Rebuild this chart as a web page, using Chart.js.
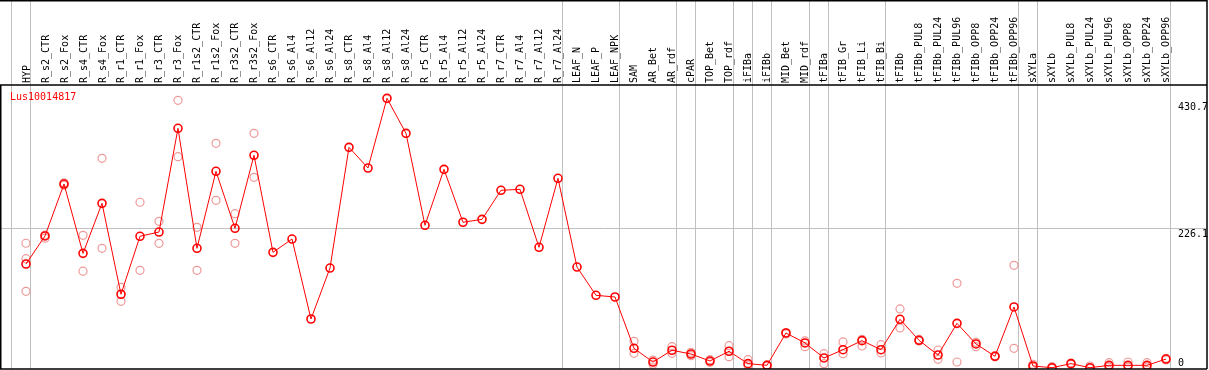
<!DOCTYPE html>
<html>
<head>
<meta charset="utf-8">
<script src="https://cdn.jsdelivr.net/npm/chart.js@4/dist/chart.umd.min.js"></script>
<style>
    body { margin: 0; background: #fff; }
    #wrap { width: 1209px; height: 370px; }
</style>
</head>
<body>
<div id="wrap"><canvas id="myChart" width="1209" height="370"></canvas></div>
<script>
var seriesName = "Lus10014817";
var categories = ["HYP", "R_s2_CTR", "R_s2_Fox", "R_s4_CTR", "R_s4_Fox", "R_r1_CTR", "R_r1_Fox", "R_r3_CTR",
    "R_r3_Fox", "R_r1s2_CTR", "R_r1s2_Fox", "R_r3s2_CTR", "R_r3s2_Fox", "R_s6_CTR", "R_s6_Al4", "R_s6_Al12",
    "R_s6_Al24", "R_s8_CTR", "R_s8_Al4", "R_s8_Al12", "R_s8_Al24", "R_r5_CTR", "R_r5_Al4", "R_r5_Al12",
    "R_r5_Al24", "R_r7_CTR", "R_r7_Al4", "R_r7_Al12", "R_r7_Al24", "LEAF_N", "LEAF_P", "LEAF_NPK", "SAM",
    "AR_Bet", "AR_rdf", "cPAR", "TOP_Bet", "TOP_rdf", "iFIBa", "iFIBb", "MID_Bet", "MID_rdf", "tFIBa",
    "tFIB_Gr", "tFIB_Li", "tFIB_Bi", "tFIBb", "tFIBb_PUL8", "tFIBb_PUL24", "tFIBb_PUL96", "tFIBb_OPP8",
    "tFIBb_OPP24", "tFIBb_OPP96", "sXYLa", "sXYLb", "sXYLb_PUL8", "sXYLb_PUL24", "sXYLb_PUL96", "sXYLb_OPP8",
    "sXYLb_OPP24", "sXYLb_OPP96"];
// mean expression per sample
var meanValues = [168.6, 213.6, 297.0, 185.7, 266.0, 120.0, 213.1, 219.9, 386.5, 193.8, 317.4, 225.9, 343.1,
    187.3, 208.7, 80.3, 162.1, 355.9, 322.7, 434.6, 378.4, 230.7, 320.6, 235.6, 240.3, 286.9, 288.5, 195.4,
    306.2, 163.7, 118.3, 115.6, 33.2, 11.2, 30.1, 24.1, 12.8, 28.5, 8.6, 5.9, 57.8, 41.8, 17.7, 31.0, 45.5,
    31.0, 79.8, 46.1, 22.5, 73.3, 40.2, 20.4, 99.6, 4.8, 2.1, 8.6, 2.1, 5.9, 5.9, 5.9, 16.0];
// replicates (null where none shown)
var rep1 = [201.9, 215, 299, 214.7, 338.3, 131.2, 267.7, 237.1, 431.4, 227.5, 362.4, 249.4, 378.4,
    null, null, null, null, null, null, null, null, null, null, null, null, null, null, null, null, null, null, null,
    44.5, 14.4, 35.8, 26.8, 15.0, 37.4, 15.0, 6.5, 58.5, 45.0, 24.6, 43.4, 47.7, 39.0, 96.4, 47.5, 30.5,
    137.6, 42.9, 21.5, 166.5, 7.6, 3.7, 9.5, 4.8, 10.1, 11.2, 10.1, 17.2];
var rep2 = [124.7, 210, 295, 157.0, 193.8, 108.7, 158.5, 201.8, 340.9, 158.5, 270.9, 201.8, 307.8,
    null, null, null, null, null, null, null, null, null, null, null, null, null, null, null, null, null, null, null,
    25.2, 7.6, 25.2, 21.4, 10.7, 19.8, 5.3, 5.0, 56.2, 35.8, 8.6, 24.6, 36.9, 25.7, 65.9, 44.8, 15.5,
    11.2, 35.8, 19.5, 33.2, 3.0, 1.0, 7.5, 1.0, 3.0, 3.0, 3.0, 14.5];
var rep3 = [177.2];
// separators drawn after these sample indices
var groupBreaks = [-1, 0, 28, 31, 34, 35, 37, 38, 39, 41, 42, 45, 52, 53, 60];
var tickValues = [0, 226.1, 430.7];
var gridValues = [226.1];

function toPoints(arr) {
    return arr.map(function(v, i) { return v == null ? null : { x: i, y: v }; }).filter(function(p) { return p; });
}

var monoFont = '10px "DejaVu Sans Mono", monospace';

var framePlugin = {
    id: 'frame',
    beforeDatasetsDraw: function(chart) {
        var ctx = chart.ctx, area = chart.chartArea;
        var xs = chart.scales.x, ys = chart.scales.y;
        ctx.save();
        ctx.strokeStyle = '#c0c0c0';
        ctx.lineWidth = 1;
        groupBreaks.forEach(function(i) {
            var px = Math.round(xs.getPixelForValue(i) + 4) + 0.5;
            ctx.beginPath();
            ctx.moveTo(px, 0);
            ctx.lineTo(px, area.bottom);
            ctx.stroke();
        });
        gridValues.forEach(function(v) {
            var py = Math.round(ys.getPixelForValue(v)) + 0.5;
            ctx.beginPath();
            ctx.moveTo(0, py);
            ctx.lineTo(area.right, py);
            ctx.stroke();
        });

        // rotated sample names
        ctx.fillStyle = '#000';
        ctx.font = monoFont;
        ctx.textAlign = 'left';
        ctx.textBaseline = 'alphabetic';
        categories.forEach(function(c, i) {
            ctx.save();
            ctx.translate(xs.getPixelForValue(i), area.top - 2);
            ctx.rotate(-Math.PI / 2);
            ctx.fillText(c, 0, 3.5);
            ctx.restore();
        });

        // value labels on the right
        tickValues.forEach(function(v) {
            var py = Math.min(ys.getPixelForValue(v) + 9, area.bottom - 3.5);
            ctx.fillText(String(v), area.right - 29, py);
        });

        ctx.fillStyle = '#ff0000';
        ctx.fillText(seriesName, area.left + 9, area.top + 15);
        ctx.restore();
    },
    afterDatasetsDraw: function(chart) {
        var ctx = chart.ctx, area = chart.chartArea;
        ctx.save();
        ctx.strokeStyle = '#000';
        ctx.lineWidth = 1.5;
        ctx.beginPath();
        ctx.moveTo(0, 0.75);
        ctx.lineTo(area.right, 0.75);
        ctx.moveTo(0, area.top);
        ctx.lineTo(area.right, area.top);
        ctx.moveTo(0, area.bottom);
        ctx.lineTo(area.right, area.bottom);
        ctx.moveTo(area.left - 0.25, area.top);
        ctx.lineTo(area.left - 0.25, area.bottom);
        ctx.moveTo(area.right, 0);
        ctx.lineTo(area.right, area.bottom);
        ctx.stroke();
        ctx.restore();
    }
};

var repStyle = {
    showLine: false,
    borderColor: '#ee9999',
    backgroundColor: 'rgba(0,0,0,0)',
    pointRadius: 4,
    pointBorderWidth: 1.2
};

new Chart(document.getElementById('myChart').getContext('2d'), {
    type: 'line',
    data: {
        datasets: [
            {
                label: seriesName,
                data: toPoints(meanValues),
                borderColor: '#ff0000',
                borderWidth: 1,
                backgroundColor: 'rgba(0,0,0,0)',
                pointBorderColor: '#ff0000',
                pointRadius: 4,
                pointBorderWidth: 1.6,
                tension: 0
            },
            Object.assign({ label: 'rep1', data: toPoints(rep1) }, repStyle),
            Object.assign({ label: 'rep2', data: toPoints(rep2) }, repStyle),
            Object.assign({ label: 'rep3', data: toPoints(rep3) }, repStyle)
        ]
    },
    options: {
        responsive: false,
        animation: false,
        layout: { autoPadding: false, padding: { left: 1, right: 2, top: 85, bottom: 1 } },
        scales: {
            x: { type: 'linear', display: false, min: -1.3158, max: 62.158 },
            y: { display: false, min: 0, max: 456 }
        },
        plugins: {
            legend: { display: false },
            tooltip: { enabled: false }
        }
    },
    plugins: [framePlugin]
});
</script>
</body>
</html>
